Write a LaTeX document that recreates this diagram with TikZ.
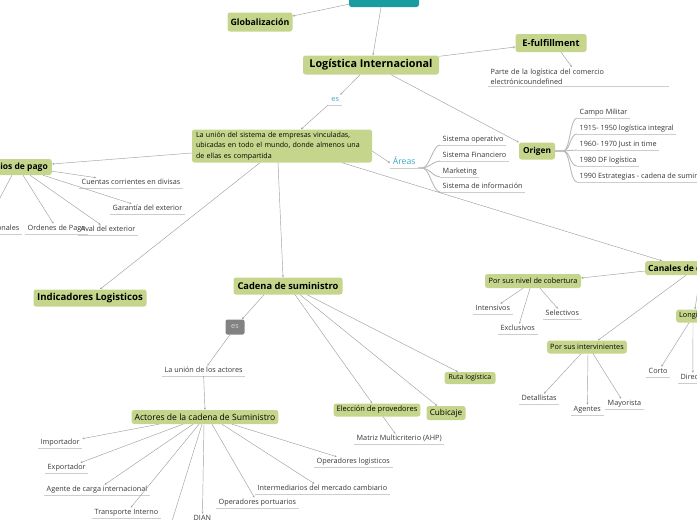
\documentclass[tikz,border=0pt]{standalone}
\usepackage{fontspec}
\setmainfont{Open Sans}
\usetikzlibrary{arrows.meta}
\definecolor{tgreen}{RGB}{197,214,140}
\definecolor{tteal}{RGB}{25,155,160}
\definecolor{lgray}{RGB}{160,160,160}
\definecolor{ugray}{RGB}{205,205,205}
\definecolor{bgray}{RGB}{185,185,185}
\definecolor{subtxt}{RGB}{55,55,55}
\definecolor{lblue}{RGB}{60,165,195}
\definecolor{esgray}{RGB}{130,130,130}
\newcommand\myS{\fontsize{7.25}{8.5}\selectfont}
\newcommand\myU{\fontsize{7.1}{10.5}\selectfont}
\tikzset{
  conn/.style={draw=lgray, line width=0.45pt, -{Stealth[length=2.2pt,width=2pt]}},
  uline/.style={draw=ugray, line width=0.9pt},
  branch/.style={draw=bgray, line width=0.9pt},
  topic/.style={fill=tgreen, rounded corners=2.5pt, inner xsep=3pt, inner ysep=0pt, text=black},
  subbase/.style={anchor=south west, inner xsep=2.5pt, inner ysep=1.5pt, text=subtxt, font=\myS,
    append after command={\pgfextra{\let\ulnode\tikzlastnode} (\ulnode.south west) edge[uline] (\ulnode.south east)}},
  sub/.style={subbase, text height=5.4pt, text depth=1.5pt},
}
\begin{document}
\begin{tikzpicture}[x=1pt,y=-1pt]
\useasboundingbox (0,0) rectangle (697,520);

% ---------- main topics ----------
\node[fill=tteal, rounded corners=2.5pt, minimum width=70pt, minimum height=22pt, inner sep=0pt] (top) at (384,-4) {};
\node[topic, font=\bfseries\fontsize{8.8}{10}\selectfont, minimum width=65pt, minimum height=19pt] (glob) at (260,22) {Globalización};
\node[topic, font=\bfseries\fontsize{10.8}{12}\selectfont, minimum width=136pt, minimum height=19pt] (logi) at (371,65) {Logística Internacional};
\node[topic, font=\bfseries\fontsize{9.2}{10}\selectfont, minimum width=71pt, minimum height=18pt] (efull) at (551,43) {E-fulfillment};
\node[topic, font=\myU, text width=172pt, align=left, inner xsep=4pt, minimum height=33pt] (union) at (282,146)
  {La unión del sistema de empresas vinculadas,\\ubicadas en todo el mundo, donde almenos una\\de ellas es compartida};
\node[topic, font=\bfseries\fontsize{8.3}{10}\selectfont, minimum width=36pt, minimum height=17pt] (origen) at (537,151) {Origen};
\node[topic, font=\bfseries\fontsize{8.5}{10}\selectfont, inner xsep=4pt, minimum height=16pt, anchor=east] (medios) at (52,167) {Medios de pago};
\node[topic, font=\bfseries\fontsize{9.6}{11}\selectfont, minimum width=113pt, minimum height=17pt] (indic) at (90,298) {Indicadores Logisticos};
\node[topic, font=\bfseries\fontsize{9.3}{11}\selectfont, minimum width=109pt, minimum height=17pt] (cadena) at (288,286) {Cadena de suministro};
\node[topic, font=\bfseries\fontsize{8.5}{10}\selectfont, inner xsep=3pt, minimum height=14pt, anchor=west] (canales) at (645,268) {Canales de distribución};
\node[topic, font=\fontsize{7.3}{8}\selectfont, minimum width=96pt, minimum height=14pt] (nivel) at (533,281) {Por sus nivel de cobertura};
\node[topic, font=\fontsize{7.3}{8}\selectfont, minimum width=79pt, minimum height=13pt] (interv) at (587,347) {Por sus intervinientes};
\node[topic, font=\fontsize{7.3}{8}\selectfont, inner xsep=3pt, minimum height=13pt, anchor=west] (longi) at (676,316) {Longitud};
\node[fill=esgray, rounded corners=2pt, minimum width=19pt, minimum height=15pt, inner sep=0pt, text=white!85!black, font=\myS] (es2) at (235,327) {es};
\node[topic, font=\fontsize{8.6}{10}\selectfont, minimum width=145pt, minimum height=14pt] (actores) at (205,417) {Actores de la cadena de Suministro};
\node[topic, font=\fontsize{7.5}{8}\selectfont, minimum width=86pt, minimum height=13pt] (eleccion) at (377,410) {Elección de provedores};
\node[topic, font=\fontsize{8.2}{9}\selectfont, minimum width=39pt, minimum height=14pt] (cubicaje) at (446,413) {Cubicaje};
\node[topic, font=\fontsize{6.9}{8}\selectfont, minimum width=51pt, minimum height=12pt] (ruta) at (470,378) {Ruta logística};

% ---------- sub topics ----------
\node[subbase, text width=176pt, align=left, font=\fontsize{7.25}{10}\selectfont] (efdesc) at (488,86)
  {Parte de la logística del comercio\\electrónicoundefined};
\node[sub, text=lblue, font=\fontsize{7.3}{8}\selectfont, minimum width=14pt] (es1) at (328,105) {es};
\node[sub, text=lblue, font=\fontsize{8.6}{9}\selectfont, minimum width=28pt] (areas) at (390,168) {Áreas};
\node[sub] (sop) at (440,145) {Sistema operativo};
\node[sub] (sfin) at (440,161) {Sistema Financiero};
\node[sub] (smkt) at (440,177) {Marketing};
\node[sub] (sinf) at (440,192) {Sistema de información};

\node[sub] (o1) at (577,118) {Campo Militar};
\node[sub] (o2) at (577,134) {1915- 1950 logística integral};
\node[sub] (o3) at (577,150) {1960- 1970 Just in time};
\node[sub] (o4) at (577,166) {1980 DF logística};
\node[sub] (o5) at (577,182) {1990 Estrategias - cadena de suministro};

\node[sub] (cuentas) at (79,188) {Cuentas corrientes en divisas};
\node[sub] (garantia) at (110,214) {Garantía del exterior};
\node[sub] (ordenes) at (25,234) {Ordenes de Pago};
\node[sub] (aval) at (78,235) {Aval del exterior};
\node[sub, anchor=south east] (giros) at (22,234) {Giros internacionales};

\node[sub] (intens) at (473,314) {Intensivos};
\node[sub] (exclus) at (498,334) {Exclusivos};
\node[sub] (select) at (543,319) {Selectivos};
\node[sub] (detal) at (519,404) {Detallistas};
\node[sub] (agent) at (571,415) {Agentes};
\node[sub] (mayor) at (605,409) {Mayorista};
\node[sub] (corto) at (646,377) {Corto};
\node[sub] (direc) at (678,383) {Directo};

\node[sub] (lau) at (162,376) {La unión de los actores};
\node[sub] (matriz) at (354,444) {Matriz Multicriterio (AHP)};
\node[sub] (import) at (38,448) {Importador};
\node[sub] (export) at (45,473) {Exportador};
\node[sub] (agente) at (44,495) {Agente de carga internacional};
\node[sub] (transp) at (92,518) {Transporte Interno};
\node[sub] (dian) at (191,524) {DIAN};
\node[sub] (oport) at (216,508) {Operadores portuarios};
\node[sub] (inter) at (255,494) {Intermediarios del mercado cambiario};
\node[sub] (olog) at (314,467) {Operadores logisticos};
\coordinate (hid) at (168,534);

% ---------- branches ----------
\foreach \n in {sop,sfin,smkt,sinf}
  \draw[branch] (areas.south east) -- ++(4,0) .. controls +(7,0) and +(-7,0) .. (\n.south west);
\foreach \n in {o1,o2,o3,o4,o5}
  \draw[branch] (origen.east) -- ++(8,0) .. controls +(7,0) and +(-7,0) .. (\n.south west);

% ---------- connectors ----------
\draw[conn] ([yshift=3pt]top.south west) -- ([yshift=6pt]glob.east);
\draw[conn] ([xshift=-3pt]top.south) -- ([xshift=2pt]logi.north);
\draw[conn] ([yshift=-1pt]logi.north east) -- ([yshift=-4pt]efull.west);
\draw[conn] ([xshift=10pt]efull.south) -- (efdesc);
\draw[conn] ([xshift=-11pt]logi.south) -- (es1);
\draw[conn] (es1.south west) -- ([xshift=19pt]union.north);
\draw[conn] ([yshift=-5pt]union.east) -- (areas.west);
\draw[conn] ([xshift=20pt]logi.south) -- (origen.north west);
\draw[conn] ([yshift=-7pt]union.west) -- ([yshift=3pt]medios.east);
\draw[conn] ([xshift=-40pt]medios.south east) -- (giros);
\draw[conn] ([xshift=-29pt]medios.south east) -- (ordenes);
\draw[conn] ([xshift=-22pt]medios.south east) -- (aval);
\draw[conn] ([xshift=-9pt]medios.south east) -- (garantia);
\draw[conn] ([yshift=4pt]medios.south east) -- (cuentas);
\draw[conn] ([xshift=-22pt]union.south) -- ([xshift=10pt]indic.north);
\draw[conn] ([xshift=-4pt]union.south) -- ([xshift=-5pt]cadena.north);
\draw[conn] ([xshift=60pt]union.south) -- ([xshift=17pt]canales.north west);
\draw[conn] ([yshift=-3pt]canales.west) -- ([yshift=3pt]nivel.east);
\draw[conn] ([xshift=41pt]canales.south west) -- ([xshift=11pt]interv.north);
\draw[conn] ([xshift=55pt]canales.south west) -- ([xshift=19pt]longi.north west);
\draw[conn] ([xshift=-10pt]nivel.south) -- (intens);
\draw[conn] ([xshift=-3pt]nivel.south) -- (exclus);
\draw[conn] ([xshift=7pt]nivel.south) -- (select);
\draw[conn] ([xshift=-6pt]interv.south) -- (detal);
\draw[conn] ([xshift=1pt]interv.south) -- (agent);
\draw[conn] ([xshift=6pt]interv.south) -- (mayor);
\draw[conn] ([xshift=13pt]longi.south west) -- (corto);
\draw[conn] ([xshift=17pt]longi.south west) -- (direc);
\draw[conn] ([xshift=-24pt]cadena.south) -- (es2);
\draw[conn] ([xshift=-5pt]es2.south) -- (lau);
\draw[conn] (lau.south) -- (actores.north);
\draw[conn] ([xshift=7pt]cadena.south) -- (eleccion);
\draw[conn] ([xshift=12pt]cadena.south) -- (cubicaje);
\draw[conn] ([xshift=19pt]cadena.south) -- (ruta);
\draw[conn] ([xshift=6pt]eleccion.south) -- (matriz);
\draw[conn] ([xshift=-46pt]actores.south) -- (import);
\draw[conn] ([xshift=-22pt]actores.south) -- (export);
\draw[conn] ([xshift=-12pt]actores.south) -- (agente);
\draw[conn] ([xshift=-6pt]actores.south) -- (transp);
\draw[conn] ([xshift=-3pt]actores.south) -- (hid);
\draw[conn] ([xshift=-1pt]actores.south) -- (dian);
\draw[conn] ([xshift=7pt]actores.south) -- (oport);
\draw[conn] ([xshift=17pt]actores.south) -- (inter);
\draw[conn] ([xshift=27pt]actores.south) -- (olog);
\end{tikzpicture}
\end{document}
